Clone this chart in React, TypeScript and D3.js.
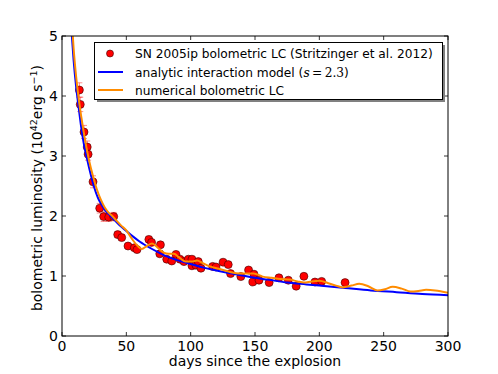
import React, { useRef, useEffect } from 'react';
import * as d3 from 'd3';

// SN 2005ip bolometric light curve (Stritzinger et al. 2012): day, L (1e42 erg/s), error
const obsDays = [13.5, 14.2, 17.1, 19.6, 20.3, 24.1, 29.3, 32.4, 36.3, 40.2, 43.3, 46.4, 51.3, 56.2, 58.3,
  67.5, 69.6, 76.5, 76.0, 81.4, 85.3, 88.6, 91.7, 94.8, 98.2, 101, 101, 104.1, 105.9, 108, 117.1, 119.7,
  125.2, 129.2, 131, 139, 145, 148.3, 149.2, 153.1, 161, 168.6, 175.9, 182, 188, 196.6, 201.8, 220];
const obsLum = [4.1, 3.86, 3.4, 3.15, 3.03, 2.57, 2.13, 1.99, 1.98, 1.99, 1.69, 1.64, 1.5, 1.47, 1.44,
  1.61, 1.56, 1.52, 1.37, 1.28, 1.25, 1.36, 1.28, 1.24, 1.28, 1.28, 1.17, 1.18, 1.24, 1.13, 1.16, 1.15,
  1.23, 1.19, 1.04, 0.99, 1.1, 0.9, 1.03, 0.93, 0.89, 0.97, 0.93, 0.83, 0.995, 0.9, 0.91, 0.89];
const obsErr = [0.12, 0.12, 0.11, 0.1, 0.1, 0.1, 0.08, 0.08, 0.07, 0.07, 0.05, 0.05, 0.04, 0.04, 0.04,
  0.05, 0.05, 0.04, 0.04, 0.03, 0.03, 0.03, 0.03, 0.03, 0.03, 0.03, 0.03, 0.03, 0.03, 0.03, 0.03, 0.03,
  0.03, 0.03, 0.03, 0.02, 0.02, 0.02, 0.02, 0.02, 0.02, 0.02, 0.02, 0.02, 0.02, 0.02, 0.02, 0.02];

// analytic interaction model (s = 2.3)
const modelDays = [7.5, 9, 11, 13, 15, 17, 19.5, 22, 25, 28, 31, 34, 37, 40, 45, 50, 55, 60, 70, 80, 90,
  100, 110, 120, 130, 140, 150, 160, 175, 190, 200, 220, 240, 260, 280, 300];
const modelLum = [5.05, 4.6, 4.15, 3.8, 3.47, 3.2, 2.95, 2.72, 2.48, 2.3, 2.18, 2.08, 2.02, 1.95, 1.84,
  1.75, 1.66, 1.58, 1.45, 1.34, 1.26, 1.2, 1.14, 1.09, 1.05, 1.01, 0.97, 0.94, 0.89, 0.86, 0.84, 0.8,
  0.76, 0.73, 0.7, 0.68];

// numerical bolometric LC
const numDays = [7.5, 9, 11, 13, 15, 17, 19, 21, 24, 27, 30, 33, 36, 39, 42, 46, 50, 54, 58, 62, 66, 70,
  74, 79, 83, 87, 91, 96, 101, 105, 109, 115, 122, 130, 138, 144, 149, 156, 163, 170, 177, 183, 188, 194,
  200, 207, 213, 218, 225, 231, 238, 245, 251, 257, 264, 271, 277, 283, 290, 300];
const numLum = [5.3, 4.8, 4.32, 3.95, 3.65, 3.38, 3.14, 2.93, 2.67, 2.45, 2.28, 2.15, 2.06, 2.0, 1.93,
  1.84, 1.76, 1.63, 1.52, 1.45, 1.5, 1.54, 1.48, 1.39, 1.37, 1.37, 1.31, 1.24, 1.24, 1.26, 1.22, 1.16,
  1.12, 1.07, 1.04, 1.04, 1.04, 0.99, 0.97, 0.95, 0.94, 0.91, 0.89, 0.91, 0.92, 0.88, 0.84, 0.81, 0.84,
  0.87, 0.83, 0.76, 0.78, 0.82, 0.79, 0.74, 0.75, 0.77, 0.76, 0.72];

const xTicks = [0, 50, 100, 150, 200, 250, 300];
const yTicks = [0, 1, 2, 3, 4, 5];

const FONT = 'DejaVu Sans, sans-serif';

const App = () => {
  const ref = useRef<SVGSVGElement>(null);

  useEffect(() => {
    const svg = d3.select(ref.current);
    svg.selectAll('*').remove();

    const left = 62, right = 448, top = 36, bottom = 336;
    const x = d3.scaleLinear().domain([0, 300]).range([left, right]);
    const y = d3.scaleLinear().domain([0, 5]).range([bottom, top]);

    svg.append('rect').attr('width', 498).attr('height', 374).attr('fill', '#fff');

    svg.append('defs').append('clipPath').attr('id', 'plotclip')
      .append('rect').attr('x', left).attr('y', top).attr('width', right - left).attr('height', bottom - top);

    const plot = svg.append('g').attr('clip-path', 'url(#plotclip)');

    // error bars
    const eb = plot.append('g').attr('stroke', '#ff0000').attr('stroke-opacity', 0.45).attr('stroke-width', 1);
    obsDays.forEach((d, i) => {
      const cx = x(d);
      const y0 = y(obsLum[i] - obsErr[i]);
      const y1 = y(obsLum[i] + obsErr[i]);
      eb.append('line').attr('x1', cx).attr('x2', cx).attr('y1', y0).attr('y2', y1);
      eb.append('line').attr('x1', cx - 3).attr('x2', cx + 3).attr('y1', y0).attr('y2', y0);
      eb.append('line').attr('x1', cx - 3).attr('x2', cx + 3).attr('y1', y1).attr('y2', y1);
    });

    // data points
    plot.append('g').selectAll('circle')
      .data(obsDays)
      .join('circle')
      .attr('cx', d => x(d))
      .attr('cy', (d, i) => y(obsLum[i]))
      .attr('r', 4)
      .attr('fill', '#ff0000')
      .attr('stroke', '#400000')
      .attr('stroke-width', 0.6);

    const line = d3.line<number>().curve(d3.curveMonotoneX);

    plot.append('path')
      .attr('d', line.x(d => x(d)).y((d, i) => y(modelLum[i]))(modelDays))
      .attr('fill', 'none').attr('stroke', '#0000ff').attr('stroke-width', 2);

    plot.append('path')
      .attr('d', line.x(d => x(d)).y((d, i) => y(numLum[i]))(numDays))
      .attr('fill', 'none').attr('stroke', '#ff8c00').attr('stroke-width', 2);

    // frame
    svg.append('rect')
      .attr('x', left).attr('y', top).attr('width', right - left).attr('height', bottom - top)
      .attr('fill', 'none').attr('stroke', '#000').attr('stroke-width', 1);

    // ticks (inside, all sides)
    const ticks = svg.append('g').attr('stroke', '#000').attr('stroke-width', 0.8);
    xTicks.forEach(t => {
      ticks.append('line').attr('x1', x(t)).attr('x2', x(t)).attr('y1', bottom).attr('y2', bottom - 4);
      ticks.append('line').attr('x1', x(t)).attr('x2', x(t)).attr('y1', top).attr('y2', top + 4);
    });
    yTicks.forEach(t => {
      ticks.append('line').attr('x1', left).attr('x2', left + 4).attr('y1', y(t)).attr('y2', y(t));
      ticks.append('line').attr('x1', right).attr('x2', right - 4).attr('y1', y(t)).attr('y2', y(t));
    });

    svg.append('g').selectAll('text').data(xTicks).join('text')
      .attr('x', d => x(d)).attr('y', bottom + 15)
      .attr('text-anchor', 'middle')
      .attr('font-family', FONT).attr('font-size', 14)
      .text(d => d);

    svg.append('g').selectAll('text').data(yTicks).join('text')
      .attr('x', left - 4).attr('y', d => y(d) + 5)
      .attr('text-anchor', 'end')
      .attr('font-family', FONT).attr('font-size', 14)
      .text(d => d);

    svg.append('text')
      .attr('x', 255).attr('y', 366)
      .attr('text-anchor', 'middle')
      .attr('font-family', FONT).attr('font-size', 14)
      .text('days since the explosion');

    const yl = svg.append('text')
      .attr('transform', `translate(42,${(top + bottom) / 2 + 2}) rotate(-90)`)
      .attr('text-anchor', 'middle')
      .attr('font-family', FONT).attr('font-size', 14);
    yl.append('tspan').text('bolometric luminosity (10');
    yl.append('tspan').attr('font-size', 9.5).attr('dy', -5.5).text('42');
    yl.append('tspan').attr('dy', 5.5).text('erg s');
    yl.append('tspan').attr('font-size', 9.5).attr('dy', -5.5).text('\u22121');
    yl.append('tspan').attr('dy', 5.5).text(')');

    // legend
    const lg = svg.append('g');
    lg.append('rect').attr('x', 97).attr('y', 45).attr('width', 348).attr('height', 57).attr('fill', '#808080');
    lg.append('rect').attr('x', 94.5).attr('y', 42.5).attr('width', 348).attr('height', 57)
      .attr('fill', '#fff').attr('stroke', '#000').attr('stroke-width', 1);

    const rows = [53.5, 72, 90];
    lg.append('circle').attr('cx', 110).attr('cy', rows[0]).attr('r', 3.5)
      .attr('fill', '#ff0000').attr('stroke', '#400000').attr('stroke-width', 0.6);
    lg.append('line').attr('x1', 98).attr('x2', 123).attr('y1', rows[1]).attr('y2', rows[1])
      .attr('stroke', '#0000ff').attr('stroke-width', 2);
    lg.append('line').attr('x1', 98).attr('x2', 123).attr('y1', rows[2]).attr('y2', rows[2])
      .attr('stroke', '#ff8c00').attr('stroke-width', 2);

    const lt = (yy: number) => lg.append('text').attr('x', 135).attr('y', yy + 4.5)
      .attr('font-family', FONT).attr('font-size', 12.2);
    lt(rows[0]).text('SN 2005ip bolometric LC (Stritzinger et al. 2012)');
    const t2 = lt(rows[1]);
    t2.append('tspan').text('analytic interaction model (');
    t2.append('tspan').attr('font-style', 'italic').attr('font-family', 'DejaVu Serif, serif').text('s');
    t2.append('tspan').attr('font-family', 'DejaVu Serif, serif').text('\u2009=\u20092.3');
    t2.append('tspan').text(')');
    lt(rows[2]).text('numerical bolometric LC');
  }, []);

  return (
    <svg ref={ref} width={498} height={374}
      style={{ position: 'absolute', left: 0, top: 0, display: 'block' }} />
  );
};

export default App;
